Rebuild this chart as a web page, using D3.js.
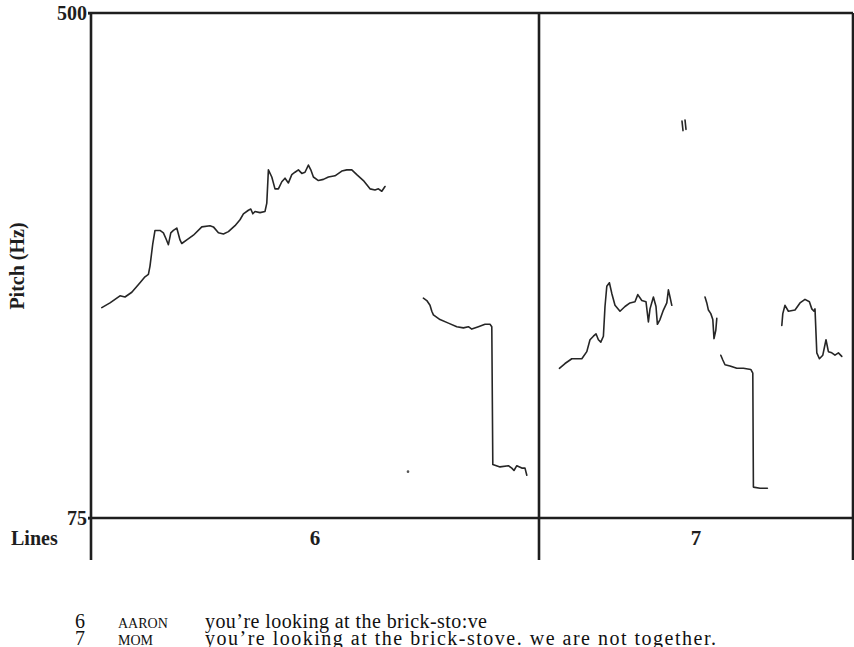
<!DOCTYPE html>
<html>
<head>
<meta charset="utf-8">
<script src="https://cdn.jsdelivr.net/npm/d3@7"></script>
<style>
  body { margin: 0; background: #fff; }
  svg { display: block; }
</style>
</head>
<body>
<svg id="chart" width="854" height="647"></svg>
<script>
// Pitch track (time in ms, F0 in Hz) for transcript lines 6 and 7
const pitchTicks = [75, 500];
const lineLabels = ["6", "7"];
const lineBounds = [0, 2240, 3810];

// Line 6 — AARON
const contourA = [[54,252],[95,256],[145,262],[170,261],[204,265],[245,273],[270,278],[287,280],[295,287],[309,306],[320,317],[345,317],[362,315],[375,310],[387,305],[399,315],[412,317],[429,319],[445,309],[454,306],[479,309],[512,313],[554,320],[595,321],[612,320],[637,315],[662,314],[687,316],[720,321],[745,326],[762,331],[787,334],[799,335],[809,331],[820,333],[845,332],[870,333],[879,340],[887,368],[904,362],[920,352],[937,352],[954,358],[970,361],[987,357],[1004,364],[1020,366],[1037,368],[1054,365],[1070,366],[1087,372],[1099,368],[1112,362],[1137,359],[1162,360],[1187,362],[1220,363],[1254,367],[1279,368],[1304,368],[1329,364],[1362,359],[1395,352],[1420,351],[1437,352],[1454,350],[1470,354]];
const contourB = [[1662,260],[1679,258],[1695,254],[1704,249],[1712,246],[1745,242],[1787,239],[1829,236],[1862,235],[1887,236],[1904,234],[1937,236],[1970,238],[1995,238],[2004,236],[2009,120],[2045,118],[2087,119],[2104,117],[2115,115],[2129,119],[2154,117],[2170,117],[2179,111]];
const stray6 = [[1585,114]];

// Line 7 — MOM
const contourC = [[2342,201],[2370,205],[2404,209],[2454,209],[2479,215],[2495,225],[2512,228],[2525,230],[2537,225],[2549,223],[2562,228],[2570,253],[2579,270],[2592,273],[2604,264],[2620,254],[2645,249],[2670,253],[2695,256],[2720,257],[2734,263],[2754,258],[2775,257],[2787,240],[2795,251],[2812,261],[2825,253],[2832,238],[2845,242],[2862,250],[2879,256],[2887,267],[2895,261],[2904,254]];
const contourD = [[3070,261],[3079,256],[3087,250],[3099,247],[3109,242],[3115,226],[3124,233],[3129,243]];
const contourE = [[3149,212],[3159,208],[3170,204],[3195,203],[3229,201],[3262,201],[3299,200],[3309,197],[3312,101],[3345,100],[3382,100]];
const contourF = [[3454,237],[3459,247],[3470,254],[3487,249],[3520,250],[3545,256],[3570,259],[3592,257],[3604,251],[3615,249],[3620,251],[3629,214],[3642,209],[3659,212],[3675,225],[3687,215],[3704,214],[3720,212],[3737,214],[3754,211]];
const fragG1 = [[2955,409],[2960,401]];
const fragG2 = [[2970,410],[2975,402]];

const contours = [contourA, contourB, contourC, contourD, contourE, contourF, fragG1, fragG2];
const strays = [stray6];

// Transcript
const lineNumbers = ["6", "7"];
const speakers = ["AARON", "MOM"];
const utterances = ["you\u2019re looking at the brick-sto:ve", "you\u2019re looking at the brick-stove. we are not together."];

const svg = d3.select("#chart");
const plot = { left: 91, right: 853, top: 13, bottom: 518, tierBottom: 560 };

const x = d3.scaleLinear().domain([lineBounds[0], lineBounds[lineBounds.length - 1]]).range([plot.left, plot.right]);
const y = d3.scaleLinear().domain([75, 500]).range([plot.bottom, plot.top]);

const ink = "#1e1e1e";
const serif = "'Liberation Serif', 'Times New Roman', serif";

// Pitch contours
const line = d3.line().x(d => x(d[0])).y(d => y(d[1])).curve(d3.curveLinear);
svg.append("g")
  .selectAll("path")
  .data(contours)
  .join("path")
  .attr("d", line)
  .attr("fill", "none")
  .attr("stroke", "#262626")
  .attr("stroke-width", 1.6)
  .attr("stroke-linejoin", "round")
  .attr("stroke-linecap", "round");

svg.append("g")
  .selectAll("circle")
  .data(strays.flat())
  .join("circle")
  .attr("cx", d => x(d[0]))
  .attr("cy", d => y(d[1]))
  .attr("r", 1.3)
  .attr("fill", "#555");

// Frame
const frame = svg.append("g").attr("stroke", ink).attr("stroke-width", 2.6).attr("fill", "none");
frame.append("line").attr("x1", plot.left - 3).attr("x2", plot.right).attr("y1", plot.top).attr("y2", plot.top);
frame.append("line").attr("x1", plot.left - 3).attr("x2", plot.right).attr("y1", plot.bottom).attr("y2", plot.bottom);
frame.selectAll("line.bound")
  .data(lineBounds)
  .join("line")
  .attr("class", "bound")
  .attr("x1", d => x(d)).attr("x2", d => x(d))
  .attr("y1", plot.top).attr("y2", plot.tierBottom);

// Pitch axis labels
const yAxis = d3.axisLeft(y).tickValues(pitchTicks).tickSize(3).tickPadding(1).tickFormat(d3.format("d"));
const gy = svg.append("g").attr("transform", `translate(${plot.left},0)`).call(yAxis);
gy.select(".domain").remove();
gy.selectAll(".tick line").attr("stroke", ink).attr("stroke-width", 2);
gy.selectAll(".tick text")
  .attr("fill", ink)
  .style("font-family", serif)
  .style("font-weight", "bold")
  .style("font-size", "20px");

svg.append("text")
  .attr("transform", "translate(24,266) rotate(-90)")
  .attr("text-anchor", "middle")
  .style("font-family", serif)
  .style("font-weight", "bold")
  .style("font-size", "20px")
  .attr("fill", ink)
  .text("Pitch (Hz)");

// Tier row
svg.append("text")
  .attr("x", 11).attr("y", 545)
  .style("font-family", serif)
  .style("font-weight", "bold")
  .style("font-size", "20px")
  .attr("fill", ink)
  .text("Lines");

svg.append("g")
  .selectAll("text")
  .data(lineLabels)
  .join("text")
  .attr("x", (d, i) => (x(lineBounds[i]) + x(lineBounds[i + 1])) / 2)
  .attr("y", 545)
  .attr("text-anchor", "middle")
  .style("font-family", serif)
  .style("font-weight", "bold")
  .style("font-size", "21px")
  .attr("fill", ink)
  .text(d => d);

// Transcript lines (the utterance column is set to its printed measure)
const utteranceWidths = [282, 511];
const rows = svg.append("g")
  .selectAll("g")
  .data(lineNumbers.map((n, i) => ({ n, who: speakers[i], said: utterances[i], w: utteranceWidths[i] })))
  .join("g")
  .attr("transform", (d, i) => `translate(0,${628 + i * 17})`)
  .style("font-family", serif)
  .attr("fill", "#111");

rows.append("text").attr("x", 75).style("font-size", "20px").text(d => d.n);
rows.append("text").attr("x", 118).style("font-size", "14px").text(d => d.who);
rows.append("text")
  .attr("x", 205)
  .style("font-size", "20px")
  .attr("textLength", d => d.w)
  .attr("lengthAdjust", "spacing")
  .text(d => d.said);
</script>
</body>
</html>
